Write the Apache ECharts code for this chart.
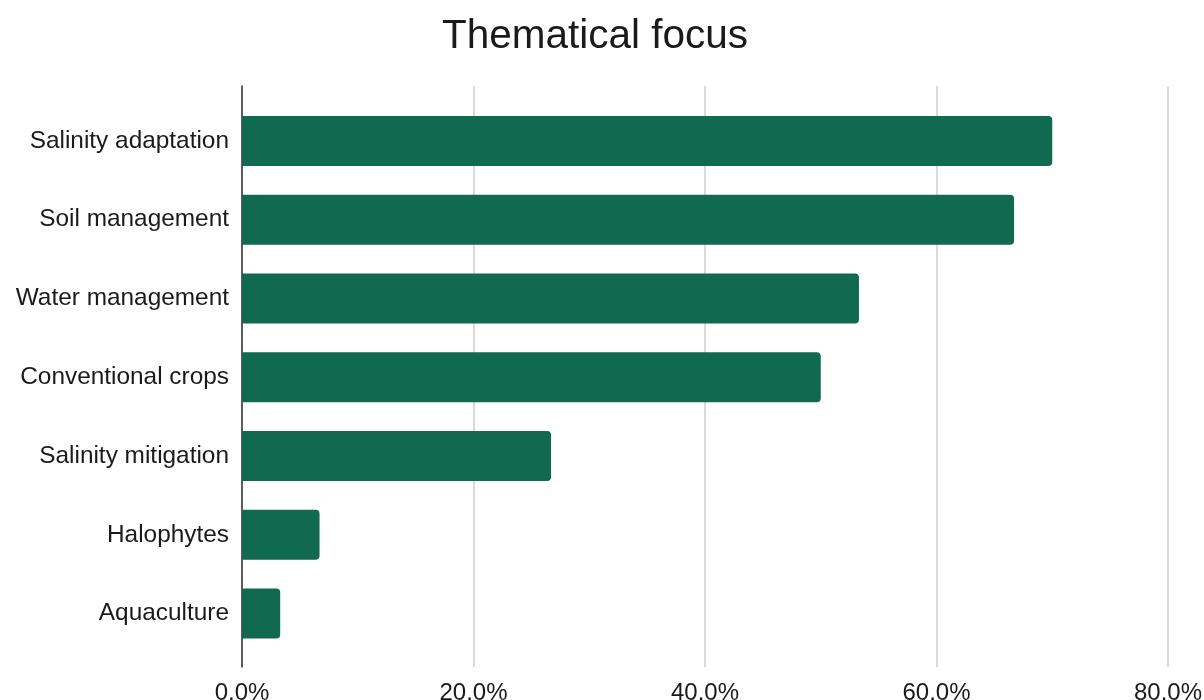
<!DOCTYPE html>
<html>
<head>
<meta charset="utf-8">
<script src="https://cdn.jsdelivr.net/npm/echarts@6/dist/echarts.min.js"></script>
<style>
html,body{margin:0;padding:0;background:#fff;}
#chart{width:1204px;height:700px;}
</style>
</head>
<body>
<div id="chart"></div>
<script>
var titleText = 'Thematical focus';
var categories = ['Salinity adaptation','Soil management','Water management','Conventional crops','Salinity mitigation','Halophytes','Aquaculture'];
var shares = [70.0, 66.7, 53.3, 50.0, 26.7, 6.7, 3.3];
var axisMin = 0, axisMax = 80, axisStep = 20;

var FONT = '"Liberation Sans", Arial, Helvetica, sans-serif';
var chart = echarts.init(document.getElementById('chart'), null, {renderer:'canvas'});
chart.setOption({
  backgroundColor:'#ffffff',
  animation:false,
  title:{text:titleText,left:437,top:11,textStyle:{fontFamily:FONT,fontSize:40.5,fontWeight:'normal',color:'#1a1a1a'}},
  grid:[
    {left:242,right:36,top:86,bottom:33,containLabel:false,outerBoundsMode:'none'},
    {left:242,right:36,top:101.5,bottom:47,containLabel:false,outerBoundsMode:'none'}
  ],
  xAxis:[
    {type:'value',gridIndex:0,min:axisMin,max:axisMax,interval:axisStep,
     axisLine:{show:false},axisTick:{show:false},
     splitLine:{show:true,lineStyle:{color:'#cccccc',width:1.5}},
     axisLabel:{margin:14,fontFamily:FONT,fontSize:24,color:'#1a1a1a',formatter:function(v){return v.toFixed(1)+'%';}}},
    {type:'value',gridIndex:1,min:axisMin,max:axisMax,interval:axisStep,show:false}
  ],
  yAxis:[
    {type:'value',gridIndex:0,min:0,max:1,axisLabel:{show:false},axisTick:{show:false},splitLine:{show:false},
     axisLine:{show:true,lineStyle:{color:'#333333',width:1.5}}},
    {type:'category',gridIndex:1,data:categories,inverse:true,
     axisLine:{show:false},axisTick:{show:false},
     axisLabel:{margin:13,fontFamily:FONT,fontSize:24.4,color:'#1a1a1a'}}
  ],
  series:[{
    type:'bar',xAxisIndex:1,yAxisIndex:1,data:shares,
    barWidth:50,
    itemStyle:{color:'#116a4f',borderRadius:[0,4,4,0]},
    z:1
  }]
});
</script>
</body>
</html>
